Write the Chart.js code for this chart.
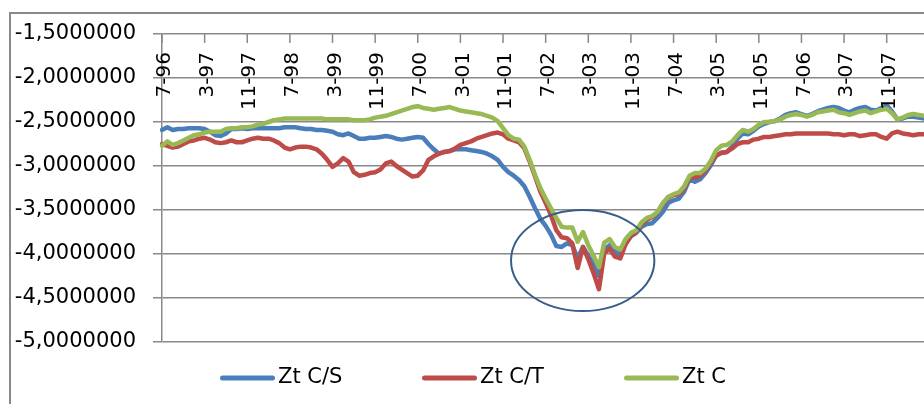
<!DOCTYPE html>
<html>
<head>
<meta charset="utf-8">
<script src="https://cdn.jsdelivr.net/npm/chart.js@4.4.1/dist/chart.umd.min.js"></script>
<style>
  html, body { margin: 0; padding: 0; background: #ffffff; }
  #c { display: block; }
</style>
</head>
<body>
<canvas id="c" width="924" height="404"></canvas>
<script>
// Monthly observations, July 1996 onwards
const startMonth = 7;
const startYear = 1996;
const monthCount = 144;

const categories = [];
for (let k = 0; k < monthCount; k++) {
  const m = (startMonth - 1 + k) % 12 + 1;
  const yy = (startYear + Math.floor((startMonth - 1 + k) / 12)) % 100;
  categories.push(m + '-' + String(yy).padStart(2, '0'));
}

// Category labels shown along the top axis
const tickLabels = ['7-96', '3-97', '11-97', '7-98', '3-99', '11-99', '7-00', '3-01', '11-01',
  '7-02', '3-03', '11-03', '7-04', '3-05', '11-05', '7-06', '3-07', '11-07'];

const seriesNames = ['Zt C/S', 'Zt C/T', 'Zt C'];

const ztCS = [
  -2.59, -2.56, -2.59, -2.58, -2.58, -2.57, -2.57, -2.57, -2.58, -2.61, -2.65, -2.66,
  -2.63, -2.58, -2.58, -2.57, -2.58, -2.57, -2.57, -2.57, -2.57, -2.57, -2.57, -2.56,
  -2.56, -2.56, -2.57, -2.58, -2.58, -2.59, -2.59, -2.60, -2.61, -2.64, -2.65, -2.63,
  -2.66, -2.69, -2.69, -2.68, -2.68, -2.67, -2.66, -2.67, -2.69, -2.70, -2.69, -2.68,
  -2.67, -2.68, -2.75, -2.81, -2.86, -2.84, -2.83, -2.81, -2.81, -2.81, -2.82, -2.83,
  -2.84, -2.86, -2.89, -2.93, -3.01, -3.07, -3.11, -3.16, -3.23, -3.35, -3.48, -3.60,
  -3.68, -3.78, -3.91, -3.92, -3.88, -3.90, -4.05, -3.92, -4.02, -4.12, -4.25, -3.95,
  -3.90, -3.97, -4.01, -3.88, -3.80, -3.76, -3.69, -3.66, -3.65, -3.59, -3.52, -3.42,
  -3.39, -3.37, -3.29, -3.15, -3.18, -3.15, -3.08, -2.99, -2.88, -2.85, -2.84, -2.78,
  -2.69, -2.63, -2.64, -2.60, -2.55, -2.52, -2.50, -2.49, -2.46, -2.42, -2.40, -2.39,
  -2.41, -2.43, -2.41, -2.38, -2.36, -2.34, -2.33, -2.34, -2.37, -2.39, -2.36, -2.34,
  -2.33, -2.36, -2.37, -2.34, -2.31, -2.38, -2.47, -2.46, -2.44, -2.44, -2.45, -2.46
];

const ztCT = [
  -2.75, -2.77, -2.79, -2.78, -2.75, -2.72, -2.71, -2.69, -2.68, -2.70, -2.73, -2.74,
  -2.73, -2.71, -2.73, -2.73, -2.71, -2.69, -2.68, -2.69, -2.69, -2.71, -2.74, -2.79,
  -2.81, -2.79, -2.78, -2.78, -2.79, -2.81, -2.86, -2.93, -3.01, -2.97, -2.91, -2.95,
  -3.07, -3.11, -3.10, -3.08, -3.07, -3.04, -2.97, -2.95, -3.00, -3.04, -3.08, -3.12,
  -3.11, -3.05, -2.93, -2.89, -2.86, -2.84, -2.83, -2.80, -2.76, -2.74, -2.72, -2.69,
  -2.67, -2.65, -2.63, -2.62, -2.64, -2.69, -2.71, -2.73, -2.80, -2.95, -3.12, -3.29,
  -3.42, -3.56, -3.73, -3.81, -3.82, -3.88, -4.16, -3.92, -4.06, -4.22, -4.40, -3.99,
  -3.94, -4.03, -4.05, -3.89, -3.79, -3.75, -3.66, -3.61, -3.58, -3.53, -3.43, -3.36,
  -3.33, -3.32, -3.25, -3.13, -3.13, -3.11, -3.05, -2.96, -2.88, -2.85, -2.84, -2.80,
  -2.75, -2.73, -2.73, -2.70, -2.69, -2.67, -2.67, -2.66, -2.65, -2.64, -2.64, -2.63,
  -2.63, -2.63, -2.63, -2.63, -2.63, -2.63, -2.64, -2.64, -2.65, -2.64, -2.64, -2.66,
  -2.65, -2.64, -2.64, -2.67, -2.69, -2.63, -2.61, -2.63, -2.64, -2.65, -2.64, -2.64
];

const ztC = [
  -2.77, -2.72, -2.76, -2.74, -2.71, -2.68, -2.65, -2.64, -2.62, -2.61, -2.61, -2.61,
  -2.58, -2.57, -2.57, -2.56, -2.56, -2.55, -2.53, -2.52, -2.50, -2.48, -2.47, -2.46,
  -2.46, -2.46, -2.46, -2.46, -2.46, -2.46, -2.46, -2.47, -2.47, -2.47, -2.47, -2.47,
  -2.48, -2.48, -2.48, -2.47, -2.45, -2.44, -2.43, -2.41, -2.39, -2.37, -2.35, -2.33,
  -2.32, -2.34, -2.35, -2.36, -2.35, -2.34, -2.33, -2.35, -2.37, -2.38, -2.39, -2.40,
  -2.41, -2.43, -2.45, -2.49, -2.57, -2.65, -2.69, -2.70, -2.78, -2.93, -3.10, -3.25,
  -3.37, -3.48, -3.59, -3.69, -3.70, -3.70, -3.86, -3.75, -3.90, -4.02, -4.15, -3.87,
  -3.83, -3.92, -3.95, -3.83, -3.76, -3.73, -3.64, -3.59, -3.57, -3.52, -3.42, -3.35,
  -3.32, -3.30, -3.23, -3.11, -3.08, -3.08, -3.03, -2.94, -2.82, -2.77, -2.76, -2.72,
  -2.65, -2.59, -2.61, -2.58, -2.53, -2.50, -2.50, -2.49, -2.47, -2.44, -2.42, -2.41,
  -2.42, -2.44, -2.42, -2.39, -2.38, -2.37, -2.36, -2.39, -2.40, -2.42, -2.40, -2.38,
  -2.37, -2.40, -2.38, -2.36, -2.35, -2.40, -2.47, -2.45, -2.42, -2.41, -2.42, -2.43
];

// Ellipse circling the 2002-2003 trough, in data units (month index, value)
const troughZone = { centerIndex: 78.95, centerValue: -4.074, halfMonths: 13.45, halfValue: 0.574 };

const FONT = 'DejaVu Sans';
const GRID = '#898989';

// Outer chart border (left and top edges)
const chartFrame = {
  id: 'chartFrame',
  afterDraw(chart) {
    const { ctx } = chart;
    ctx.save();
    ctx.strokeStyle = GRID;
    ctx.lineWidth = 2;
    ctx.beginPath();
    ctx.moveTo(10, chart.height);
    ctx.lineTo(10, 13);
    ctx.lineTo(chart.width, 13);
    ctx.stroke();
    ctx.restore();
  }
};

// Category tick marks and rotated labels hanging under the top edge of the plot
const topAxis = {
  id: 'topAxis',
  afterDatasetsDraw(chart) {
    const { ctx, chartArea } = chart;
    const xs = chart.scales.x;
    ctx.save();
    ctx.strokeStyle = GRID;
    ctx.lineWidth = 1.5;
    ctx.fillStyle = '#000000';
    ctx.font = '20px "' + FONT + '"';
    tickLabels.forEach(label => {
      const idx = categories.indexOf(label);
      const px = xs.getPixelForValue(idx);
      ctx.beginPath();
      ctx.moveTo(px, chartArea.top);
      ctx.lineTo(px, chartArea.top + 9);
      ctx.stroke();
      ctx.save();
      ctx.translate(px + 3, chartArea.top + 18);
      ctx.rotate(-Math.PI / 2);
      ctx.textAlign = 'right';
      ctx.textBaseline = 'middle';
      ctx.fillText(label, 0, 0);
      ctx.restore();
    });
    ctx.restore();
  }
};

const troughRing = {
  id: 'troughRing',
  afterDatasetsDraw(chart) {
    const { ctx } = chart;
    const xs = chart.scales.x, ys = chart.scales.y;
    const cx = xs.getPixelForValue(troughZone.centerIndex);
    const cy = ys.getPixelForValue(troughZone.centerValue);
    const rx = Math.abs(xs.getPixelForValue(troughZone.centerIndex + troughZone.halfMonths) - cx);
    const ry = Math.abs(ys.getPixelForValue(troughZone.centerValue + troughZone.halfValue) - cy);
    ctx.save();
    ctx.strokeStyle = '#385d8a';
    ctx.lineWidth = 2;
    ctx.beginPath();
    ctx.ellipse(cx, cy, rx, ry, 0, 0, Math.PI * 2);
    ctx.stroke();
    ctx.restore();
  }
};

// Legend row under the plot, one equal-width slot per series
const bottomLegend = {
  id: 'bottomLegend',
  afterDraw(chart) {
    const { ctx, chartArea } = chart;
    const slot = 202;
    const y = chartArea.bottom + 36;
    ctx.save();
    ctx.font = '21px "' + FONT + '"';
    ctx.textBaseline = 'middle';
    ctx.textAlign = 'left';
    chart.data.datasets.forEach((ds, i) => {
      const x0 = chartArea.left + 58 + i * slot;
      ctx.strokeStyle = ds.borderColor;
      ctx.lineWidth = 5;
      ctx.lineCap = 'round';
      ctx.beginPath();
      ctx.moveTo(x0 + 2.5, y);
      ctx.lineTo(x0 + 52.5, y);
      ctx.stroke();
      ctx.fillStyle = '#000000';
      ctx.fillText(ds.label, x0 + 58, y);
    });
    ctx.restore();
  }
};

new Chart(document.getElementById('c'), {
  type: 'line',
  data: {
    labels: categories,
    datasets: [
      { label: seriesNames[0], data: ztCS, borderColor: '#4a7ebb', order: 2 },
      { label: seriesNames[1], data: ztCT, borderColor: '#be4b48', order: 1 },
      { label: seriesNames[2], data: ztC, borderColor: '#98b954', order: 0 }
    ]
  },
  options: {
    responsive: false,
    animation: false,
    devicePixelRatio: 1,
    layout: { padding: { top: 34, bottom: 62, left: 0, right: 0 } },
    elements: {
      point: { radius: 0, hoverRadius: 0 },
      line: { tension: 0, borderWidth: 4.5, borderJoinStyle: 'round', borderCapStyle: 'round', fill: false }
    },
    plugins: { legend: { display: false }, tooltip: { enabled: false } },
    scales: {
      x: { type: 'category', display: false, offset: false },
      y: {
        min: -5,
        max: -1.5,
        afterFit(scale) { scale.width = 162; },
        ticks: {
          stepSize: 0.5,
          color: '#000000',
          padding: 17,
          font: { family: FONT, size: 21 },
          callback: v => Number(v).toFixed(7).replace('.', ',')
        },
        grid: { color: GRID, lineWidth: 1.5, tickLength: 9, drawTicks: true },
        border: { color: GRID, width: 1.5 }
      }
    }
  },
  plugins: [chartFrame, topAxis, troughRing, bottomLegend]
});
</script>
</body>
</html>
